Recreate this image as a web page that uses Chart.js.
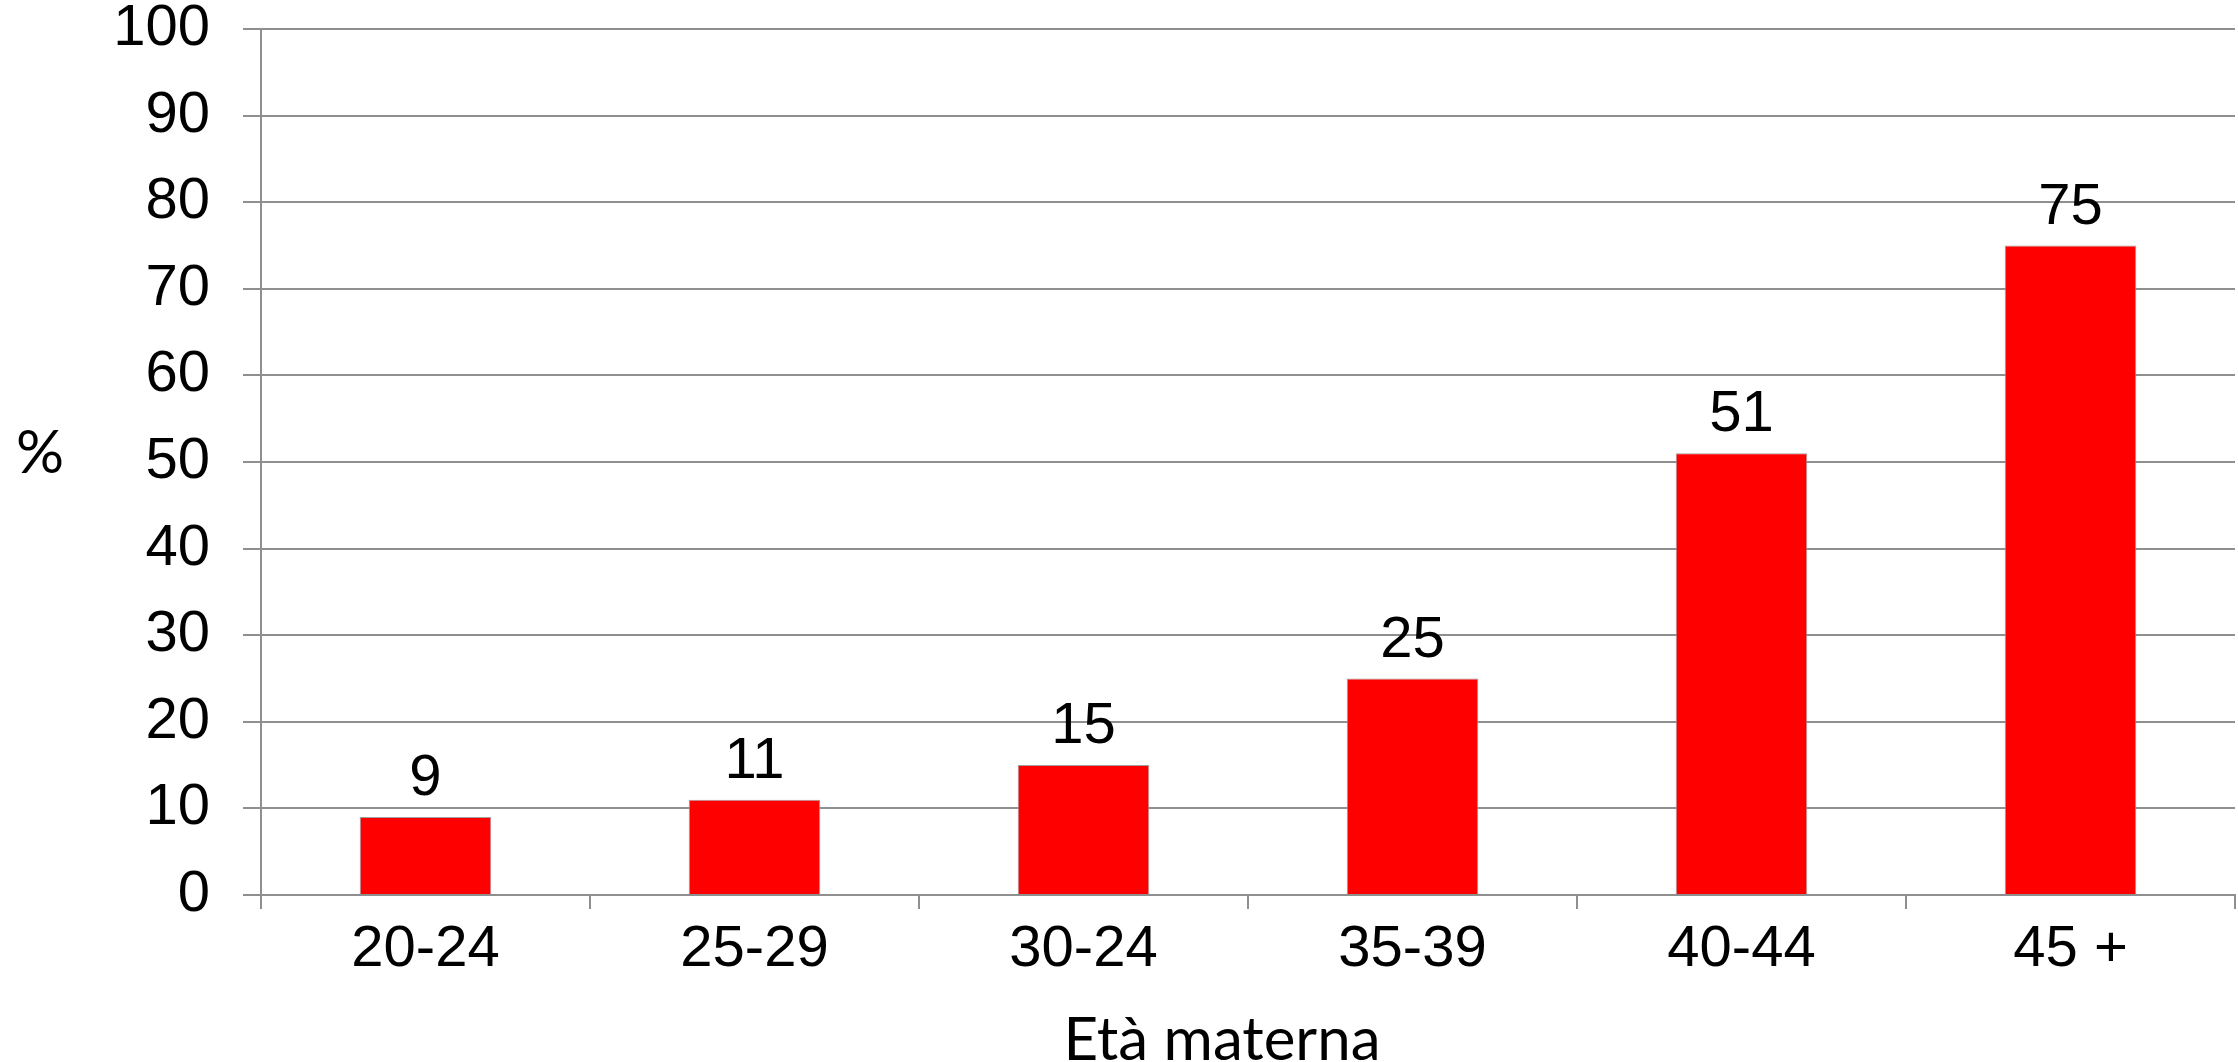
<!DOCTYPE html>
<html lang="it">
<head>
  <meta charset="UTF-8" />
  <title>Età materna</title>
  <script src="https://cdn.jsdelivr.net/npm/chart.js"></script>
  <style>
    html, body { margin: 0; padding: 0; background: #fff; }
    #wrap { width: 2238px; height: 1062px; }
  </style>
</head>
<body>
  <div id="wrap"><canvas id="chart" width="2238" height="1062"></canvas></div>

  <script>
    const categories = ["20-24", "25-29", "30-24", "35-39", "40-44", "45 +"];
    const values = [9, 11, 15, 25, 51, 75];
    const yTicks = [0, 10, 20, 30, 40, 50, 60, 70, 80, 90, 100];

    const gridColor = "#8f8f8f";
    const tickFont = { family: "'Liberation Sans', Arial, sans-serif", size: 58 };

    // value labels above bars + the two axis captions
    const labelsPlugin = {
      id: "labels",
      afterDatasetsDraw(chart) {
        const ctx = chart.ctx;
        const meta = chart.getDatasetMeta(0);
        ctx.save();
        ctx.fillStyle = "#000";
        ctx.font = "58px 'Liberation Sans', Arial, sans-serif";
        ctx.textAlign = "center";
        ctx.textBaseline = "middle";
        meta.data.forEach((bar, i) => {
          ctx.fillText(String(values[i]), bar.x, bar.y - 38);
        });

        const area = chart.chartArea;
        ctx.font = "60px Lato, 'Open Sans', sans-serif";
        ctx.fillText("%", 40, (area.top + area.bottom) / 2 - 8);
        ctx.fillText("Età materna", (area.left + area.right) / 2 - 26, 1041);
        ctx.restore();
      }
    };

    new Chart(document.getElementById("chart"), {
      type: "bar",
      data: {
        labels: categories,
        datasets: [{
          data: values,
          backgroundColor: "#ff0000",
          borderColor: "#a0a0a0",
          borderWidth: 1,
          categoryPercentage: 1,
          barPercentage: 0.4
        }]
      },
      options: {
        responsive: false,
        animation: false,
        layout: { padding: { top: 29, right: 3, left: 0, bottom: 0 } },
        plugins: {
          legend: { display: false },
          tooltip: { enabled: false }
        },
        scales: {
          x: {
            grid: {
              offset: true,
              drawOnChartArea: false,
              color: gridColor,
              lineWidth: 2,
              tickLength: 14
            },
            border: { display: true, color: gridColor, width: 2 },
            ticks: { color: "#000", font: tickFont, padding: 6 },
            afterFit(scale) {
              scale.height = 167;
              scale.paddingLeft = 0;
              scale.paddingRight = 0;
            }
          },
          y: {
            min: 0,
            max: 100,
            afterBuildTicks(scale) { scale.ticks = yTicks.map(v => ({ value: v })); },
            grid: { color: gridColor, lineWidth: 2, tickLength: 18 },
            border: { display: true, color: gridColor, width: 2 },
            ticks: { color: "#000", font: tickFont, padding: 33 },
            afterFit(scale) {
              scale.width = 261;
              scale.paddingTop = 0;
              scale.paddingBottom = 0;
            }
          }
        }
      },
      plugins: [labelsPlugin]
    });
  </script>
</body>
</html>
